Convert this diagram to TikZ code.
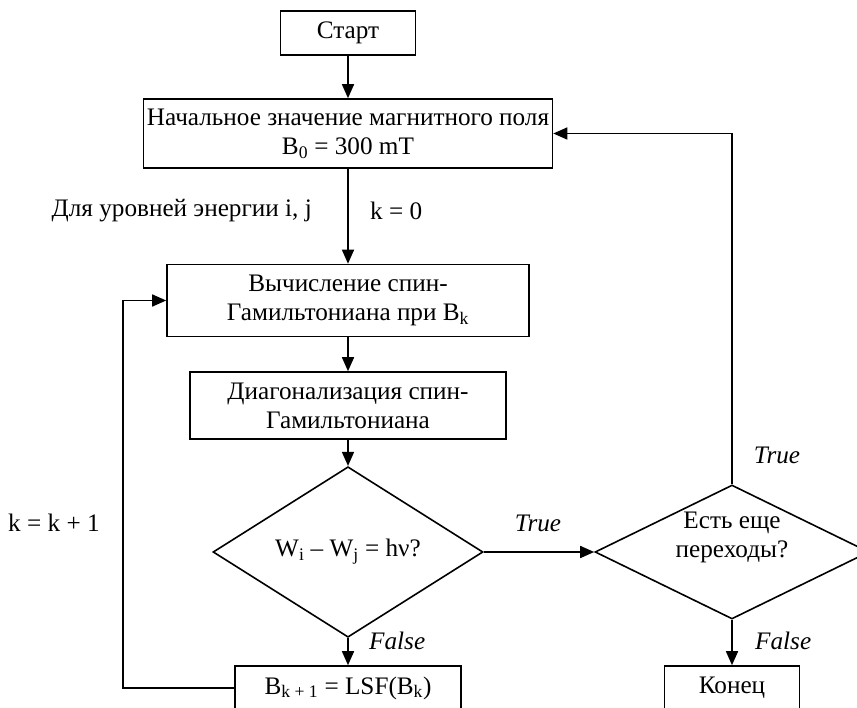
\documentclass[tikz,border=0pt]{standalone}
\usepackage{fontspec}
\setmainfont{Liberation Serif}
\usetikzlibrary{shapes.geometric,arrows.meta}
\begin{document}
\begin{tikzpicture}[x=1pt,y=-1pt,
  txt/.style={font=\fontsize{25.2}{29}\selectfont},
  box/.style={txt,draw,line width=1.6pt,align=center,inner sep=0pt},
  dec/.style={txt,draw,diamond,line width=1.6pt,align=center,inner sep=0pt},
  lbl/.style={txt,inner sep=0pt,align=center},
  itl/.style={lbl,font=\fontsize{25.2}{29}\selectfont\itshape},
  arr/.style={line width=1.6pt,-{Triangle[length=14pt,width=12pt]}}]
\useasboundingbox (0,0) rectangle (857,708);
\clip (0,0) rectangle (857,708);
\node[box,minimum width=135pt,minimum height=44pt] (start) at (348,33) {Старт};
\node[box,minimum width=409pt,minimum height=69pt] (init) at (348,133.5) {Начальное значение магнитного поля\\B\textsubscript{0} = 300 mT};
\node[box,minimum width=362pt,minimum height=72pt] (calc) at (348,300.5) {Вычисление спин-\\Гамильтониана при B\textsubscript{k}};
\node[box,minimum width=316pt,minimum height=67pt] (diag) at (348,405.5) {Диагонализация спин-\\Гамильтониана};
\node[dec,minimum width=270pt,minimum height=134pt] (d1) at (348,552) {W\textsubscript{i} – W\textsubscript{j} = hν?};
\node[dec,minimum width=274pt,minimum height=134pt] (d2) at (732,552) {};
\node[lbl] (d2t) at (732,537) {Есть еще\\переходы?};
\node[box,minimum width=226pt,minimum height=44pt] (lsf) at (348,688) {B\textsubscript{k + 1} = LSF(B\textsubscript{k})};
\node[box,minimum width=135pt,minimum height=44pt] (end) at (732,688) {Конец};
\node[lbl,anchor=east] (lvl) at (312,211) {Для уровней энергии i, j};
\node[lbl,anchor=west] (k0) at (370,211) {k = 0};
\node[lbl,anchor=west] (kk) at (8,523) {k = k + 1};
\node[itl] (t1) at (538,523) {True};
\node[itl] (t2) at (777,455) {True};
\node[itl,anchor=west] (f1) at (369,641) {False};
\node[itl,anchor=west] (f2) at (755,641) {False};
\coordinate (loopx) at (123,0);
\draw[arr] (start.south) -- (init.north);
\draw[arr] (init.south) -- (calc.north);
\draw[arr] (calc.south) -- (diag.north);
\draw[arr] (diag.south) -- (d1.north);
\draw[arr] (d1.east) -- (d2.west);
\draw[arr] (d1.south) -- (lsf.north);
\draw[arr] (d2.south) -- (end.north);
\draw[arr] (d2.north) |- (init.east);
\draw[arr] (lsf.west) -| (loopx |- calc.west) -- (calc.west);
\end{tikzpicture}
\end{document}
